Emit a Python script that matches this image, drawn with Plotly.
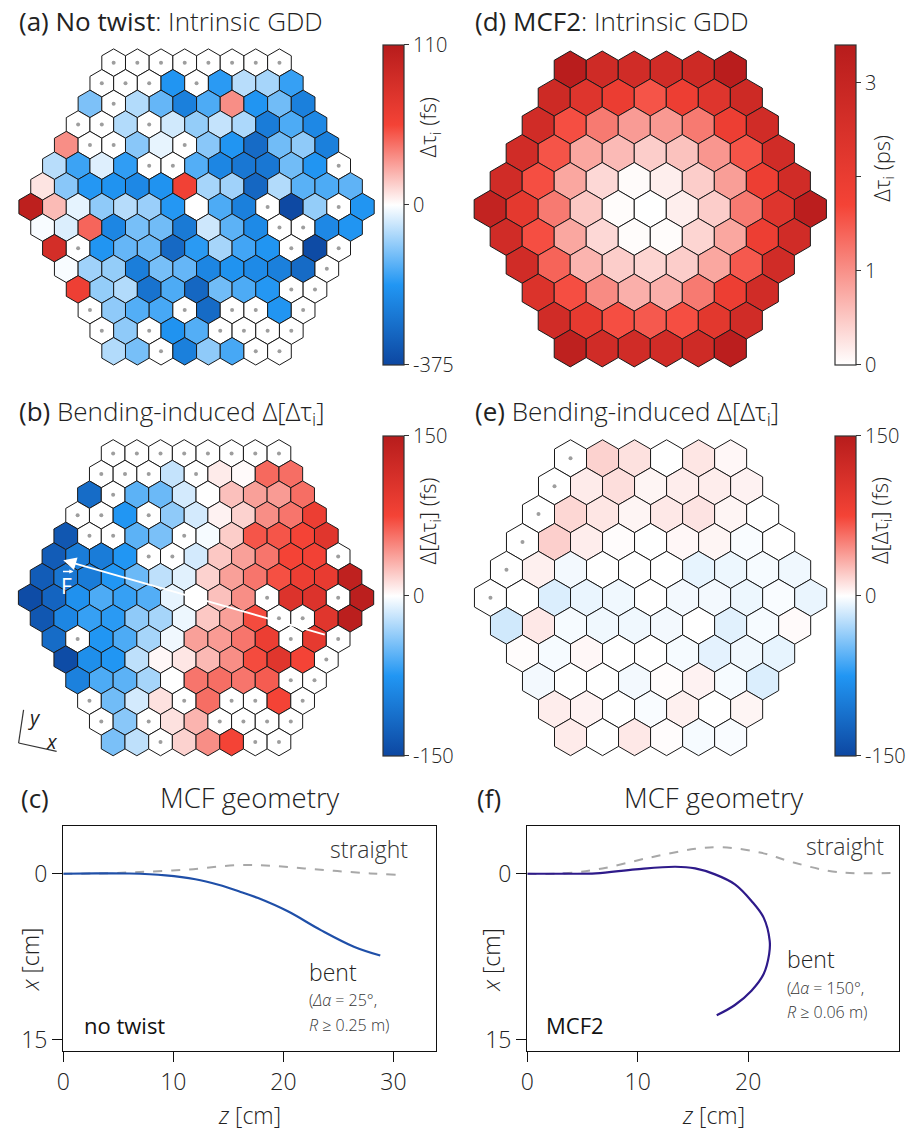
import math
import plotly.graph_objects as go
from plotly.colors import sample_colorscale

W, H = 921, 1137
SQ3 = math.sqrt(3)
N = None
FONT = "Open Sans"

# ---------------- data ----------------
# (a) no twist, intrinsic GDD [fs]; rows top -> bottom, None = no data
A_VALUES = [
    [N, N, N, N, N, N, N, N],
    [N, N, N, -190, N, -180, -60, -75, -170],
    [-110, N, -65, -130, -240, -150, 33, -190, -120, -240],
    [N, N, -65, N, -40, -90, -50, -70, -250, -150, -220],
    [33, N, N, -100, -20, N, -100, -190, -290, -120, -95, -240],
    [-60, -165, -28, -175, N, N, -145, -225, -260, -260, -120, -190, N],
    [8, -100, -185, -195, -220, -195, 58, -75, -80, -300, -65, -140, -150, -135],
    [105, 20, -22, -95, -62, -85, -185, 0, -150, -240, N, -370, -90, N, -190],
    [-6, -30, 45, -225, -115, -120, -255, -42, -138, -215, N, N, -220, -190],
    [85, N, -190, -130, -125, -295, -180, -75, -160, -190, N, -365, N],
    [-6, -80, -90, -245, -115, -130, -225, -195, -215, -240, -290, N],
    [60, -90, -65, -270, -150, -300, -120, -150, -185, N, N],
    [N, -95, -145, -155, N, -290, N, N, -190, N],
    [N, -95, N, -195, -145, N, N, N, N],
    [-65, -115, N, -240, -95, -155, N, N],
]
# (b) no twist, bending-induced change [fs]
B_VALUES = [
    [N, N, N, N, N, N, N, N],
    [N, N, N, -20, N, 8, 2, 60, 58],
    [-115, N, -55, -50, -15, 0, 25, 38, 40, 58],
    [N, N, -75, N, -38, -15, 5, 18, 45, 55, 85],
    [-135, N, N, -55, -45, N, -3, 20, 68, 68, 75, 100],
    [-130, -100, -100, -75, N, N, -15, 22, 38, 55, 75, 78, N],
    [-130, -105, -100, -75, -50, -22, -10, 18, 38, 55, 70, 85, 90, 140],
    [-145, -122, -80, -60, -68, -58, -8, 0, 25, 45, N, 105, 105, N, 145],
    [-135, -90, -68, -72, -38, -30, -6, 22, 38, 72, N, N, 100, 145],
    [-115, N, -75, -60, -30, -5, 38, 40, 55, 85, N, 92, N],
    [-145, -82, -75, -22, 3, 10, 28, 45, 72, 100, 75, N],
    [-95, -60, -55, -30, 0, 55, 58, 55, 65, N, N],
    [N, -48, -15, 12, N, 58, N, N, 75, N],
    [N, -40, N, 12, 30, N, N, N, N],
    [-45, -22, N, 18, 45, 75, N, N],
]
# (d) MCF2 intrinsic GDD [ps]
D_VALUES = [
    [3.35, 2.75, 2.7, 2.7, 2.8, 3.35],
    [2.8, 2.3, 1.95, 1.55, 1.9, 2.3, 2.8],
    [2.7, 1.6, 1.2, 0.9, 0.92, 1.2, 1.9, 2.7],
    [2.7, 1.55, 0.8, 0.62, 0.45, 0.55, 0.95, 1.55, 2.7],
    [2.7, 1.6, 0.8, 0.35, 0.04, 0.15, 0.45, 0.88, 1.9, 2.7],
    [3.1, 2.15, 1.2, 0.5, 0.03, 0.0, 0.15, 0.45, 1.2, 2.3, 3.3],
    [2.7, 1.6, 0.8, 0.35, 0.03, 0.03, 0.38, 0.8, 1.9, 2.7],
    [2.7, 1.4, 0.68, 0.45, 0.38, 0.45, 0.8, 1.5, 2.7],
    [2.4, 1.6, 1.05, 0.72, 0.72, 1.2, 1.9, 2.7],
    [2.7, 2.1, 1.6, 1.5, 1.6, 2.2, 2.7],
    [3.2, 2.7, 2.7, 2.7, 2.75, 3.3],
]
# (e) MCF2 bending-induced change [fs]
E_VALUES = [
    [N, 18, 12, 0, 10, 3],
    [N, 8, 13, 4, 7, 7, 5],
    [N, 16, 10, 4, 9, 11, 4, 0],
    [N, 19, 7, 1, 0, 3, 4, -2, 0],
    [N, 6, -4, 0, 0, 0, -8, -6, -3, -5],
    [N, 0, -12, -7, -5, 0, -4, -4, -6, -2, -7],
    [-16, 9, -3, -5, -5, -4, 0, -10, -3, 2],
    [1, -3, 3, 0, 0, -3, -9, -5, -8],
    [-4, 0, 0, -4, 1, 5, -3, -12],
    [7, 5, 0, -2, 6, 0, 4],
    [8, 0, 9, 1, -3, -2],
]
A_RANGE = (-375, 110)
B_RANGE = (-150, 150)
D_RANGE = (0, 3.4)
D_TICKS = [0, 1, 2, 3]
D_TICKTEXT = ["0", "1", "", "3"]
E_RANGE = (-150, 150)

# (c)/(f) fibre geometry [cm]
C_STRAIGHT_Z = [0, 3, 6.9, 11.4, 15.9, 18.9, 21.9, 24.9, 27.9, 30.2]
C_STRAIGHT_X = [0, -0.02, -0.15, -0.39, -0.78, -0.72, -0.48, -0.24, -0.03, 0.09]
C_BENT_Z = [0, 3, 6, 9.3, 12, 14.1, 16, 17.7, 20.4, 23.4, 26.4, 28.8]
C_BENT_X = [0, -0.03, -0.02, 0.15, 0.5, 1.0, 1.6, 2.2, 3.4, 5.1, 6.6, 7.4]
F_STRAIGHT_Z = [0, 3.4, 6.8, 11.0, 15.2, 17.6, 21.2, 24.2, 28.1, 33.7]
F_STRAIGHT_X = [0, -0.03, -0.48, -1.44, -2.25, -2.4, -1.89, -0.99, -0.15, -0.09]
F_BENT_Z = [0, 3.1, 6.2, 9.8, 13.4, 15.2, 17.0, 18.8, 20.3, 21.4, 21.95, 21.9, 21.4, 20.3, 18.8, 17.15]
F_BENT_X = [0, 0.0, -0.03, -0.39, -0.63, -0.48, 0.06, 0.96, 2.46, 3.97, 6.07, 7.27, 9.07, 10.58, 11.87, 12.8]

DIVERGING = [[0, "#0D47A1"], [0.25, "#2196F3"], [0.5, "#FFFFFF"], [0.75, "#F44336"], [1, "#B71C1C"]]
REDS = [[0, "#FFFFFF"], [0.5, "#F44336"], [1, "#B71C1C"]]


def two_slope(rng):
    lo, hi = rng
    return lambda v: 0.5 + 0.5 * v / (-lo) if v < 0 else 0.5 + 0.5 * v / hi


def linear(rng):
    lo, hi = rng
    return lambda v: (v - lo) / (hi - lo)


fig = go.Figure()
layout = {}


def refs(i):
    return ("x", "y") if i == 1 else (f"x{i}", f"y{i}")


def names(i):
    return ("xaxis", "yaxis") if i == 1 else (f"xaxis{i}", f"yaxis{i}")


def hex_panel(values, idx, norm, cscale, cx, cy, s):
    xr, yr = refs(idx)
    xn, yn = names(idx)
    n = len(values)
    k = n // 2
    mid = len(values[k])
    hw = mid / 2 * SQ3 + 0.12
    hh = k * 1.5 + 1 + 0.12
    layout[xn] = dict(domain=[(cx - s * hw) / W, (cx + s * hw) / W], range=[-hw, hw],
                      visible=False, anchor=yr)
    layout[yn] = dict(domain=[1 - (cy + s * hh) / H, 1 - (cy - s * hh) / H], range=[-hh, hh],
                      visible=False, anchor=xr)
    dx, dy = [], []
    for i, row in enumerate(values):
        cnt = len(row)
        yc = (k - i) * 1.5
        for j, v in enumerate(row):
            xc = (j - (cnt - 1) / 2) * SQ3
            xs = [xc + math.cos(math.radians(90 + 60 * m)) for m in range(7)]
            ys = [yc + math.sin(math.radians(90 + 60 * m)) for m in range(7)]
            if v is None:
                col = "#ffffff"
                dx.append(xc)
                dy.append(yc)
            else:
                col = sample_colorscale(cscale, [min(max(norm(v), 0), 1)])[0]
            fig.add_trace(go.Scatter(x=xs, y=ys, mode="lines", fill="toself", fillcolor=col,
                                     line=dict(color="#1a1a1a", width=1), hoverinfo="skip",
                                     showlegend=False, xaxis=xr, yaxis=yr))
    if dx:
        fig.add_trace(go.Scatter(x=dx, y=dy, mode="markers", marker=dict(size=4, color="#9e9e9e"),
                                 hoverinfo="skip", showlegend=False, xaxis=xr, yaxis=yr))


def colorbar(idx, cscale, cmin, cmax, tickvals, ticktext, left, top, length):
    xr, yr = refs(idx)
    fig.add_trace(go.Scatter(
        x=[None], y=[None], mode="markers", hoverinfo="skip", showlegend=False, xaxis=xr, yaxis=yr,
        marker=dict(color=[cmin], colorscale=cscale, cmin=cmin, cmax=cmax, showscale=True,
                    colorbar=dict(x=left / W, xanchor="left", y=1 - top / H, yanchor="top",
                                  len=length, lenmode="pixels", thickness=21, thicknessmode="pixels",
                                  xpad=0, ypad=0, outlinewidth=1.2, outlinecolor="#333",
                                  ticks="outside", ticklen=5, tickwidth=1.2, tickcolor="#333",
                                  tickvals=tickvals, ticktext=ticktext,
                                  tickfont=dict(family=FONT, size=20, color="#222", weight=300)))))


hex_panel(A_VALUES, 1, two_slope(A_RANGE), DIVERGING, 191, 207.5, 13.78)
hex_panel(B_VALUES, 2, two_slope(B_RANGE), DIVERGING, 190.5, 599.3, 13.78)
hex_panel(D_VALUES, 3, linear(D_RANGE), REDS, 648.2, 209.5, 18.63)
hex_panel(E_VALUES, 4, two_slope(E_RANGE), DIVERGING, 648.5, 599.3, 18.63)

colorbar(1, DIVERGING, -1, 1, [-1, 0, 1], [str(A_RANGE[0]), "0", str(A_RANGE[1])], 379, 45, 320)
colorbar(2, DIVERGING, -1, 1, [-1, 0, 1], [str(B_RANGE[0]), "0", str(B_RANGE[1])], 379, 437, 320)
colorbar(3, REDS, D_RANGE[0], D_RANGE[1], D_TICKS, D_TICKTEXT, 834, 45, 320)
colorbar(4, DIVERGING, -1, 1, [-1, 0, 1], [str(E_RANGE[0]), "0", str(E_RANGE[1])], 834, 437, 320)


def line_panel(idx, left, right, top, bottom, xrng, yrng, xticks, yticks):
    xr, yr = refs(idx)
    xn, yn = names(idx)
    common = dict(showline=True, linecolor="#111", linewidth=1.4, mirror=True, ticks="outside",
                  ticklen=10, tickwidth=1.4, tickcolor="#111", showgrid=False, zeroline=False,
                  tickfont=dict(family=FONT, size=23, color="#222", weight=300))
    layout[xn] = dict(domain=[left / W, right / W], range=xrng, tickvals=xticks, anchor=yr, **common)
    layout[yn] = dict(domain=[1 - bottom / H, 1 - top / H], range=yrng, tickvals=yticks, anchor=xr, **common)


line_panel(5, 56.7, 432.7, 827.7, 1054, [0, 33.9], [16.05, -4.36], [0, 10, 20, 30], [0, 15])
line_panel(6, 524.3, 899.3, 827.7, 1054, [0, 33.7], [16.05, -4.36], [0, 10, 20], [0, 15])

for idx, sz, sx, bz, bx, col in [(5, C_STRAIGHT_Z, C_STRAIGHT_X, C_BENT_Z, C_BENT_X, "#1f4fa8"),
                                  (6, F_STRAIGHT_Z, F_STRAIGHT_X, F_BENT_Z, F_BENT_X, "#2e1a8a")]:
    xr, yr = refs(idx)
    fig.add_trace(go.Scatter(x=sz, y=sx, mode="lines", line=dict(color="#a8a8a8", width=2, dash="dash", shape="spline"),
                             hoverinfo="skip", showlegend=False, xaxis=xr, yaxis=yr))
    fig.add_trace(go.Scatter(x=bz, y=bx, mode="lines", line=dict(color=col, width=2.2, shape="spline"),
                             hoverinfo="skip", showlegend=False, xaxis=xr, yaxis=yr))

ann = []


def text(t, x, y, size, xanchor="left", yanchor="middle", color="#222", angle=0, weight=300, xref="paper", yref="paper"):
    if xref == "paper":
        x = x / W
        y = 1 - y / H
    ann.append(dict(text=t, x=x, y=y, xref=xref, yref=yref, xanchor=xanchor, yanchor=yanchor,
                    showarrow=False, textangle=angle,
                    font=dict(family=FONT, size=size, color=color, weight=weight)))


EM = '<span style="font-weight:500">'
text(EM + "(a) No twist</span>: Intrinsic GDD", 10, 21, 26)
text(EM + "(d) MCF2</span>: Intrinsic GDD", 470, 21, 26)
text(EM + "(b)</span> Bending-induced Δ[Δτ<sub>i</sub>]", 10, 413, 26)
text(EM + "(e)</span> Bending-induced Δ[Δτ<sub>i</sub>]", 470, 413, 26)
text(EM + "(c)</span>", 12, 800, 26)
text(EM + "(f)</span>", 472, 800, 26)
text("MCF geometry", 245, 800, 27.5, xanchor="center")
text("MCF geometry", 712, 800, 27.5, xanchor="center")

text("Δτ<sub>i</sub> (fs)", 425, 128, 22, xanchor="center", angle=-90)
text("Δ[Δτ<sub>i</sub>] (fs)", 425, 522, 22, xanchor="center", angle=-90)
text("Δτ<sub>i</sub> (ps)", 882, 169, 22, xanchor="center", angle=-90)
text("Δ[Δτ<sub>i</sub>] (fs)", 880, 522, 22, xanchor="center", angle=-90)

text("<i>x</i> [cm]", 24, 962, 23, xanchor="center", angle=-90)
text("<i>x</i> [cm]", 488, 962, 23, xanchor="center", angle=-90)
text("<i>z</i> [cm]", 244, 1118, 23, xanchor="center")
text("<i>z</i> [cm]", 712, 1118, 23, xanchor="center")

# in-plot labels (data coordinates)
text("straight", 27.8, -2.2, 23, xanchor="center", color="#333", xref="x5", yref="y5")
text("bent", 22.1, 8.85, 23, xref="x5", yref="y5", color="#222")
text("(<i>Δα</i> = 25°,", 22.1, 11.45, 16, xref="x5", yref="y5", color="#333")
text("<i>R</i> ≥ 0.25 m)", 22.1, 13.7, 16, xref="x5", yref="y5", color="#333")
text("no twist", 1.7, 13.7, 22, xref="x5", yref="y5", color="#111", weight=500)

text("straight", 28.75, -2.5, 23, xanchor="center", color="#333", xref="x6", yref="y6")
text("bent", 23.3, 7.75, 23, xref="x6", yref="y6", color="#222")
text("(<i>Δα</i> = 150°,", 23.3, 10.35, 16, xref="x6", yref="y6", color="#333")
text("<i>R</i> ≥ 0.06 m)", 23.3, 12.5, 16, xref="x6", yref="y6", color="#333")
text("MCF2", 1.5, 13.7, 22, xref="x6", yref="y6", color="#111", weight=500)

# force direction arrow in (b)
s_b = 13.78
ann.append(dict(x=(56.7 - 190.5) / s_b, y=-(561.7 - 599.3) / s_b, ax=(321.7 - 190.5) / s_b,
                ay=-(636.7 - 599.3) / s_b, xref="x2", yref="y2", axref="x2", ayref="y2",
                showarrow=True, arrowhead=2, arrowsize=1.3, arrowwidth=2, arrowcolor="white", text=""))
text("F", 60, 588, 21, xanchor="center", color="white", weight=400)
ann.append(dict(x=67 / W, y=1 - 573 / H, xref="paper", yref="paper", ax=-12, ay=0, text="",
                showarrow=True, arrowhead=2, arrowsize=0.6, arrowwidth=1.4, arrowcolor="white"))

# x/y orientation mark
shapes = [
    dict(type="line", xref="paper", yref="paper", x0=11.7 / W, y0=1 - 745 / H, x1=16.7 / W, y1=1 - 711.7 / H,
         line=dict(color="#333", width=1.2)),
    dict(type="line", xref="paper", yref="paper", x0=11.7 / W, y0=1 - 745 / H, x1=50 / W, y1=1 - 753.3 / H,
         line=dict(color="#333", width=1.2)),
]
text("<i>y</i>", 28, 719, 20, xanchor="center", color="#222", weight=400)
text("<i>x</i>", 45, 743, 20, xanchor="center", color="#222", weight=400)

fig.update_layout(width=W, height=H, margin=dict(l=0, r=0, t=0, b=0), paper_bgcolor="white",
                  plot_bgcolor="rgba(0,0,0,0)", annotations=ann, shapes=shapes,
                  font=dict(family=FONT, color="#222"), **layout)
fig.write_html("out.html")
